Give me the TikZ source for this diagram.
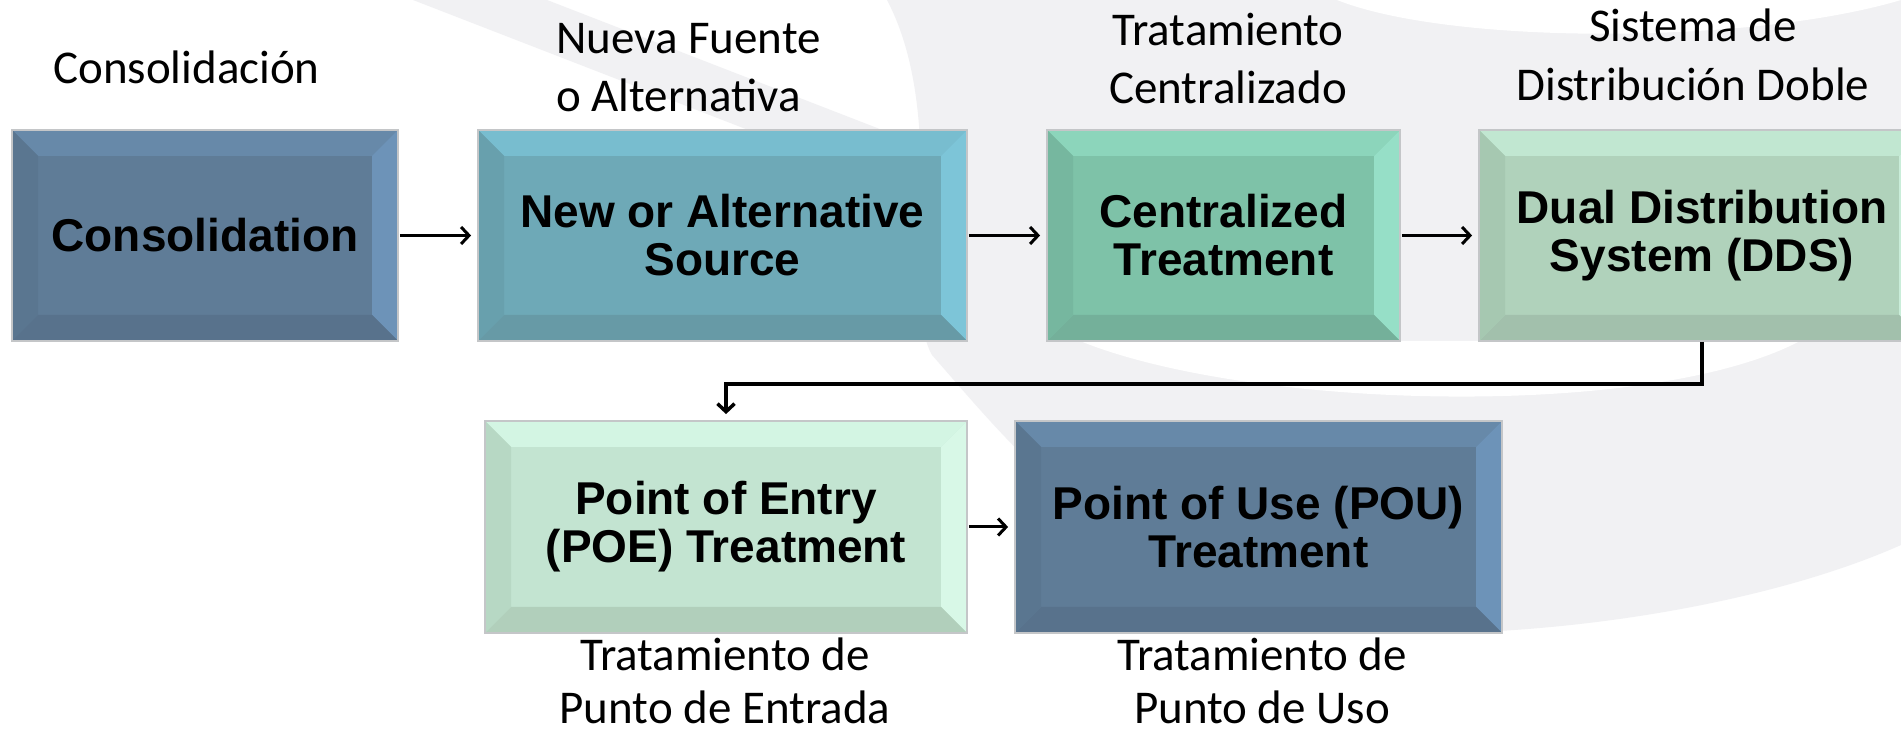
\documentclass[tikz,border=0pt]{standalone}
\usepackage{fontspec}
\setmainfont{Carlito}
\newfontfamily\boxfont{Liberation Sans}
\usetikzlibrary{arrows.meta}
\definecolor{bggray}{RGB}{241,241,243}
\definecolor{boxline}{RGB}{196,198,200}
% Consolidation / POU palette
\definecolor{sA}{RGB}{95,124,151}\definecolor{sAt}{RGB}{103,137,169}\definecolor{sAr}{RGB}{109,147,184}\definecolor{sAb}{RGB}{88,114,140}\definecolor{sAl}{RGB}{90,118,144}
% New source palette
\definecolor{sB}{RGB}{110,169,183}\definecolor{sBt}{RGB}{120,189,207}\definecolor{sBr}{RGB}{125,197,216}\definecolor{sBb}{RGB}{103,154,166}\definecolor{sBl}{RGB}{104,160,173}
% Centralized palette
\definecolor{sC}{RGB}{126,194,168}\definecolor{sCt}{RGB}{140,213,187}\definecolor{sCr}{RGB}{150,223,199}\definecolor{sCb}{RGB}{116,176,154}\definecolor{sCl}{RGB}{118,183,159}
% DDS palette
\definecolor{sD}{RGB}{176,210,187}\definecolor{sDt}{RGB}{193,231,209}\definecolor{sDr}{RGB}{201,237,217}\definecolor{sDb}{RGB}{162,192,172}\definecolor{sDl}{RGB}{166,200,177}
% POE palette
\definecolor{sE}{RGB}{195,228,209}\definecolor{sEt}{RGB}{211,245,227}\definecolor{sEr}{RGB}{216,248,231}\definecolor{sEb}{RGB}{177,207,187}\definecolor{sEl}{RGB}{183,216,196}
\def\bv{26pt}
\tikzset{
  bevbox/.style n args={5}{draw=boxline, line width=1.8pt, fill=#1, inner sep=0pt,
    font=\boxfont\bfseries\fontsize{46}{48}\selectfont, align=center,
    path picture={
      \fill[#2] (path picture bounding box.north west) -- (path picture bounding box.north east)
        -- ([shift={(-\bv,-\bv)}]path picture bounding box.north east)
        -- ([shift={(\bv,-\bv)}]path picture bounding box.north west) -- cycle;
      \fill[#3] (path picture bounding box.north east) -- (path picture bounding box.south east)
        -- ([shift={(-\bv,\bv)}]path picture bounding box.south east)
        -- ([shift={(-\bv,-\bv)}]path picture bounding box.north east) -- cycle;
      \fill[#4] (path picture bounding box.south east) -- (path picture bounding box.south west)
        -- ([shift={(\bv,\bv)}]path picture bounding box.south west)
        -- ([shift={(-\bv,\bv)}]path picture bounding box.south east) -- cycle;
      \fill[#5] (path picture bounding box.south west) -- (path picture bounding box.north west)
        -- ([shift={(\bv,-\bv)}]path picture bounding box.north west)
        -- ([shift={(\bv,\bv)}]path picture bounding box.south west) -- cycle;
    }},
  toprow/.style={minimum height=211pt},
  botrow/.style={minimum height=212pt},
  lbl/.style={font=\fontsize{47}{58}\selectfont, inner sep=0pt},
  arr/.style={line width=3pt, -{Straight Barb[length=8pt,width=17pt]}, shorten >=6pt, shorten <=1pt},
  conn/.style={line width=3.5pt, -{Straight Barb[length=8pt,width=17pt]}, shorten >=6pt, line join=miter},
}
\begin{document}
\begin{tikzpicture}[x=1pt,y=1pt]
\useasboundingbox (0,0) rectangle (1901,735);
\begin{scope}
\clip (0,0) rectangle (1901,735);
\fill[white] (0,0) rectangle (1901,735);
% background watermark (y = 735 - pixel row)
\fill[bggray] (413,735) -- (547,735) -- (890,602) -- (756,602) -- cycle;
\fill[bggray] (887,735) .. controls (950,615) and (900,435) .. (932,380)
  .. controls (980,325) and (1030,265) .. (1079,233)
  .. controls (1200,145) and (1350,95) .. (1499,104)
  .. controls (1650,113) and (1800,145) .. (1901,190) -- (1901,735) -- cycle;
\fill[white] (1337,735) .. controls (1450,690) and (1750,690) .. (1901,735) -- cycle;
\fill[white] (1080,394) .. controls (1250,325) and (1650,315) .. (1800,394) -- cycle;

% boxes
\node[bevbox={sA}{sAt}{sAr}{sAb}{sAl}, toprow, minimum width=386pt] (cons) at (205,499.5) {Consolidation};
\node[bevbox={sB}{sBt}{sBr}{sBb}{sBl}, toprow, minimum width=489pt] (src) at (722.5,499.5) {New or Alternative\\Source};
\node[bevbox={sC}{sCt}{sCr}{sCb}{sCl}, toprow, minimum width=353pt] (cent) at (1223.5,499.5) {Centralized\\Treatment};
\node[bevbox={sD}{sDt}{sDr}{sDb}{sDl}, toprow, minimum width=446pt] (dds) at (1702,499.5) {Dual Distribution\\System (DDS)};
\node[bevbox={sE}{sEt}{sEr}{sEb}{sEl}, botrow, minimum width=482pt] (poe) at (726,208) {Point of Entry\\(POE) Treatment};
\node[bevbox={sA}{sAt}{sAr}{sAb}{sAl}, botrow, minimum width=487pt] (pou) at (1258.5,208) {Point of Use (POU)\\Treatment};

% connectors
\draw[arr] (cons) -- (src);
\draw[arr] (src) -- (cent);
\draw[arr] (cent) -- (dds);
\draw[conn] (dds.south) -- ++(0,-42) -| (poe.north);
\draw[arr] (poe) -- (pou);

% Spanish labels (base anchor = baseline of the last line)
\node[lbl, anchor=base west] (lcons) at (53,651) {Consolidación};
\node[lbl, anchor=base west, align=left] (lsrc) at (556,623) {Nueva Fuente\\o Alternativa};
\node[lbl, anchor=base, align=center] (lcent) at (1228,631) {Tratamiento\\Centralizado};
\node[lbl, anchor=base, align=center, font=\fontsize{47}{59}\selectfont] (ldds) at (1693,634) {Sistema de\\Distribución Doble};
\node[lbl, anchor=base, align=center, font=\fontsize{47}{53}\selectfont] (lpoe) at (725,11) {Tratamiento de\\Punto de Entrada};
\node[lbl, anchor=base, align=center, font=\fontsize{47}{53}\selectfont] (lpou) at (1262,11) {Tratamiento de\\Punto de Uso};
\end{scope}
\end{tikzpicture}
\end{document}
